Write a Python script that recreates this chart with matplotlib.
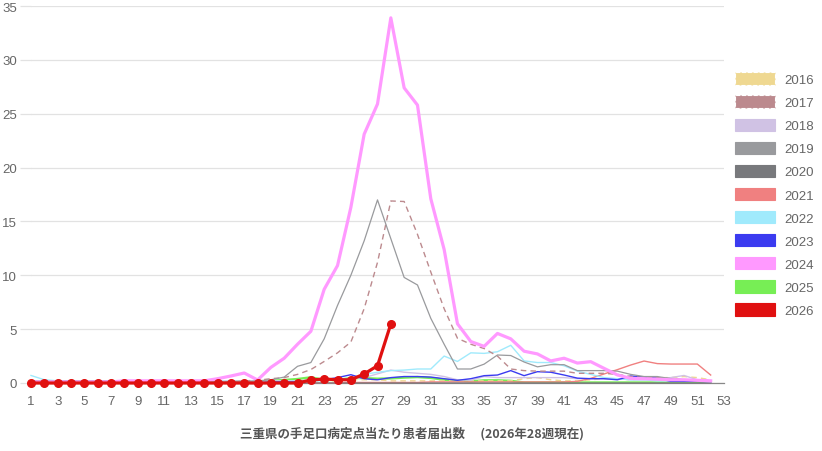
import matplotlib
matplotlib.use("Agg")
import matplotlib.pyplot as plt
from matplotlib.patches import Patch
import numpy as np

weeks = list(range(1, 53))
week_ticks = list(range(1, 54, 2))
years = ["2016", "2017", "2018", "2019", "2020", "2021", "2022", "2023", "2024", "2025", "2026"]

v2016 = [0.1, 0.1, 0.1, 0.1, 0.1, 0.1, 0.1, 0.1, 0.1, 0.1, 0.1, 0.1, 0.1, 0.1, 0.1, 0.1, 0.1, 0.1, 0.1, 0.2,
         0.2, 0.2, 0.2, 0.2, 0.3, 0.3, 0.3, 0.2, 0.2, 0.2, 0.2, 0.2, 0.2, 0.2, 0.2, 0.2, 0.2, 0.4, 0.5, 0.3,
         0.2, 0.2, 0.3, 0.4, 0.4, 0.3, 0.4, 0.5, 0.5, 0.6, 0.5, 0.3]
v2017 = [0.1, 0.1, 0.1, 0.1, 0.1, 0.2, 0.2, 0.2, 0.1, 0.1, 0.1, 0.1, 0.1, 0.1, 0.1, 0.1, 0.2, 0.25, 0.4, 0.5,
         0.8, 1.25, 2.0, 2.8, 3.8, 6.9, 11.2, 16.9, 16.85, 13.8, 10.3, 6.9, 4.15, 3.6, 3.2, 2.5, 1.3, 1.15, 1.1, 1.1,
         1.1, 0.9, 0.9, 0.9, 0.8, 0.6, 0.5, 0.5, 0.4, 0.3, 0.3, 0.2]
v2018 = [0.2, 0.2, 0.2, 0.2, 0.2, 0.2, 0.2, 0.2, 0.2, 0.2, 0.2, 0.2, 0.2, 0.2, 0.2, 0.2, 0.2, 0.2, 0.2, 0.2,
         0.2, 0.3, 0.3, 0.3, 0.4, 0.5, 0.85, 1.2, 1.0, 0.9, 0.8, 0.6, 0.3, 0.25, 0.6, 0.5, 0.5, 0.5, 0.5, 0.5,
         0.5, 0.4, 0.4, 0.4, 0.4, 0.3, 0.3, 0.4, 0.5, 0.7, 0.3, 0.2]
v2019 = [0.2, 0.2, 0.2, 0.2, 0.2, 0.2, 0.2, 0.2, 0.2, 0.1, 0.1, 0.1, 0.1, 0.1, 0.1, 0.1, 0.1, 0.2, 0.3, 0.55,
         1.55, 1.9, 4.1, 7.2, 10.0, 13.2, 17.0, 13.4, 9.8, 9.1, 6.0, 3.6, 1.3, 1.3, 1.75, 2.6, 2.55, 1.95, 1.5, 1.7,
         1.7, 1.15, 1.15, 1.15, 1.1, 0.8, 0.6, 0.6, 0.4, 0.3, 0.2, 0.1]
v2020 = [0.1, 0.1, 0.1, 0.1, 0.1, 0.1, 0.1, 0.1, 0.1, 0.05, 0.05, 0.0, 0.0, 0.0, 0.0, 0.0, 0.0, 0.0, 0.0, 0.0,
         0.0, 0.0, 0.0, 0.0, 0.0, 0.0, 0.0, 0.0, 0.0, 0.0, 0.0, 0.0, 0.0, 0.0, 0.0, 0.0, 0.0, 0.0, 0.0, 0.0,
         0.0, 0.0, 0.0, 0.0, 0.0, 0.0, 0.0, 0.0, 0.0, 0.0, 0.0, 0.0]
v2021 = [0.0, 0.0, 0.0, 0.0, 0.0, 0.0, 0.0, 0.0, 0.0, 0.0, 0.0, 0.0, 0.0, 0.0, 0.0, 0.0, 0.0, 0.0, 0.0, 0.0,
         0.0, 0.0, 0.0, 0.0, 0.05, 0.05, 0.05, 0.05, 0.05, 0.05, 0.1, 0.1, 0.1, 0.1, 0.1, 0.1, 0.1, 0.1, 0.1, 0.1,
         0.1, 0.15, 0.43, 0.84, 1.24, 1.67, 2.04, 1.8, 1.76, 1.76, 1.76, 0.74]
v2022 = [0.7, 0.3, 0.2, 0.2, 0.2, 0.2, 0.15, 0.15, 0.15, 0.15, 0.15, 0.15, 0.15, 0.15, 0.15, 0.15, 0.15, 0.15, 0.15, 0.15,
         0.2, 0.2, 0.2, 0.3, 0.4, 0.8, 1.0, 1.15, 1.2, 1.3, 1.3, 2.5, 2.0, 2.8, 2.75, 2.9, 3.5, 2.05, 1.9, 1.9,
         1.6, 1.1, 0.8, 0.5, 0.4, 0.3, 0.3, 0.2, 0.2, 0.2, 0.2, 0.1]
v2023 = [0.0, 0.0, 0.0, 0.0, 0.0, 0.0, 0.0, 0.0, 0.0, 0.0, 0.0, 0.0, 0.0, 0.0, 0.0, 0.0, 0.0, 0.0, 0.1, 0.1,
         0.1, 0.2, 0.3, 0.5, 0.77, 0.4, 0.3, 0.5, 0.6, 0.6, 0.55, 0.4, 0.25, 0.4, 0.68, 0.74, 1.15, 0.68, 1.05, 1.0,
         0.74, 0.45, 0.4, 0.4, 0.3, 0.65, 0.55, 0.45, 0.15, 0.15, 0.15, 0.1]
v2024 = [0.1, 0.1, 0.1, 0.1, 0.1, 0.1, 0.1, 0.2, 0.2, 0.2, 0.2, 0.2, 0.2, 0.2, 0.4, 0.65, 0.93, 0.28, 1.45, 2.3,
         3.6, 4.8, 8.7, 10.9, 16.3, 23.1, 25.9, 33.9, 27.4, 25.8, 17.1, 12.4, 5.5, 3.85, 3.4, 4.6, 4.1, 2.95, 2.7, 2.05,
         2.3, 1.85, 1.98, 1.36, 0.75, 0.43, 0.4, 0.35, 0.3, 0.3, 0.25, 0.2]
v2025 = [0.05, 0.05, 0.05, 0.05, 0.05, 0.05, 0.05, 0.05, 0.05, 0.05, 0.05, 0.05, 0.05, 0.05, 0.05, 0.1, 0.15, 0.15, 0.2, 0.28,
         0.37, 0.53, 0.28, 0.28, 0.46, 0.46, 0.4, 0.43, 0.5, 0.55, 0.47, 0.3, 0.25, 0.15, 0.25, 0.25, 0.2, 0.05, 0.05, 0.05,
         0.05, 0.05, 0.05, 0.05, 0.05, 0.05, 0.05, 0.05, 0.05, 0.05, 0.05, 0.05]
v2026 = [0.0, 0.0, 0.0, 0.0, 0.0, 0.0, 0.0, 0.0, 0.0, 0.0, 0.0, 0.0, 0.0, 0.0, 0.0, 0.0, 0.0, 0.0, 0.0, 0.0,
         0.0, 0.28, 0.37, 0.3, 0.3, 0.84, 1.6, 5.48]

series = [v2016, v2017, v2018, v2019, v2020, v2021, v2022, v2023, v2024, v2025, v2026]
colors = ["#efd891", "#bc8a8e", "#d0c2e4", "#999a9d", "#78797c", "#f08080", "#a0eafc", "#3b3bf0", "#ff99ff", "#77ee55", "#e01010"]
styles = ["--", "--", "-", "-", "-", "-", "-", "-", "-", "-", "-"]
widths = [1.0, 1.0, 1.0, 0.9, 0.9, 1.0, 1.0, 1.0, 2.3, 1.7, 2.3]
zorders = [3, 4, 3, 4, 3.5, 3, 3, 3, 6, 2.5, 8]

plt.rcParams['font.family'] = ['Liberation Sans', 'Noto Sans CJK JP', 'DejaVu Sans']

fig = plt.figure(figsize=(8.22, 4.52), dpi=100)
ax = fig.add_axes([31/822, 1-384/452, (724-31)/822, (384-7)/452])

for yr, vals, c, ls, lw, z in zip(years, series, colors, styles, widths, zorders):
    x = weeks[:len(vals)]
    if yr == "2026":
        ax.plot(x, vals, color=c, lw=lw, ls=ls, zorder=z, marker='o', markersize=5.5,
                clip_on=False)
    else:
        ax.plot(x, vals, color=c, lw=lw, ls=ls, zorder=z, clip_on=False,
                dashes=(4, 3) if ls == "--" else (None, None))

ax.set_xlim(1, 53)
ax.set_ylim(0, 35)
ax.set_yticks(range(0, 36, 5))
ax.set_xticks(week_ticks)
ax.grid(axis='y', color='#e2e2e2', lw=0.9, zorder=0)
ax.grid(axis='x', visible=False)
for s in ['top', 'right', 'left']:
    ax.spines[s].set_visible(False)
ax.spines['bottom'].set_color('#888888')
ax.spines['bottom'].set_linewidth(0.9)
ax.tick_params(axis='y', length=8, color='#e2e2e2', width=0.9, pad=2, labelsize=9.5, labelcolor='#666666')
ax.tick_params(axis='x', length=0, pad=9, labelsize=9.5, labelcolor='#666666')

handles = []
for yr, c, ls in zip(years, colors, styles):
    if ls == "--":
        h = Patch(facecolor=c, edgecolor='#ffffff', linestyle='--', linewidth=0.8, label=yr)
    else:
        h = Patch(facecolor=c, edgecolor=c, linewidth=0.8, label=yr)
    handles.append(h)
leg = fig.legend(handles=handles, loc='upper left', bbox_to_anchor=(730/822, 1-68/452),
                 frameon=False, fontsize=9.5, handlelength=3.0, handleheight=1.05,
                 labelspacing=0.72, handletextpad=0.7, borderaxespad=0)
for t in leg.get_texts():
    t.set_color('#666666')

fig.text(412/822, 1-434/452, "三重県の手足口病定点当たり患者届出数　 (2026年28週現在)",
         ha='center', va='center', fontsize=9.0, color='#555555', fontweight='bold',
         family=['Noto Sans CJK JP', 'DejaVu Sans'])

fig.savefig("out.png", dpi=100)
